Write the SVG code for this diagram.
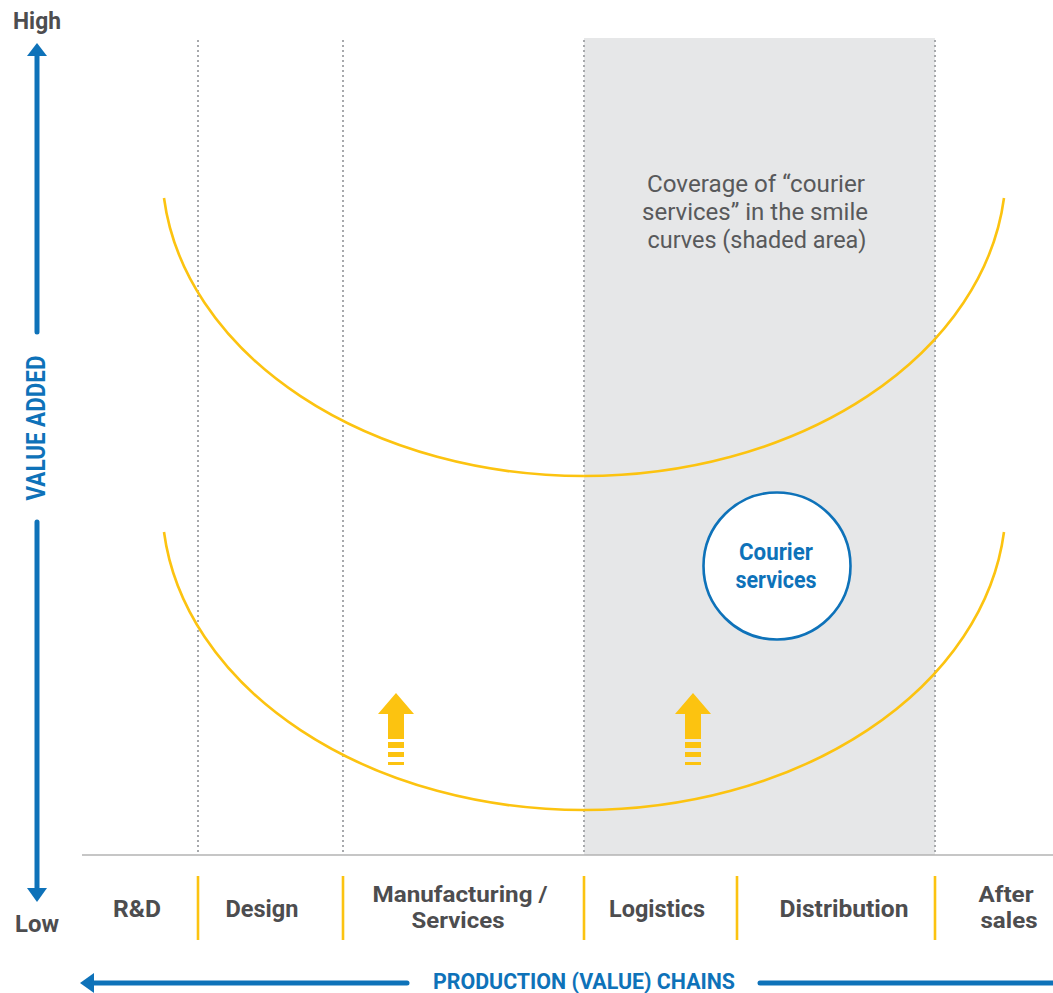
<svg xmlns="http://www.w3.org/2000/svg" width="1053" height="993" viewBox="0 0 1053 993">
  <defs>
    <style>
      .divider { stroke: #a7a9ac; stroke-width: 2; stroke-dasharray: 2 3; fill: none; }
      .smile { stroke: #fcc310; stroke-width: 2.6; fill: none; }
      .sep { stroke: #fcc310; stroke-width: 2.6; }
      .axis { stroke: #0e72b9; stroke-width: 5; stroke-linecap: round; fill: none; }
      .head { fill: #0e72b9; }
      .stage { font-family: Roboto, "Liberation Sans", sans-serif; font-weight: 700; font-size: 23.5px; fill: #4d4d4f; text-anchor: middle; }
      .stage2 { font-family: Roboto, "Liberation Sans", sans-serif; font-weight: 700; font-size: 22px; fill: #4d4d4f; text-anchor: middle; }
      .axislbl { font-family: Roboto, "Liberation Sans", sans-serif; font-weight: 700; font-size: 23px; fill: #4d4d4f; text-anchor: middle; }
      .title { font-family: Roboto, "Liberation Sans", sans-serif; font-weight: 700; font-size: 23px; fill: #0e72b9; text-anchor: middle; }
      .note { font-family: Roboto, "Liberation Sans", sans-serif; font-size: 23px; fill: #58595b; text-anchor: middle; }
      .boost { fill: #fcc310; }
    </style>
  </defs>

  <rect width="1053" height="993" fill="#ffffff"/>

  <!-- shaded coverage band -->
  <rect id="coverage" x="584" y="38" width="351" height="817" fill="#e6e7e8"/>

  <!-- stage dividers -->
  <g id="dividers">
    <line class="divider" x1="198" y1="40" x2="198" y2="855"/>
    <line class="divider" x1="343" y1="40" x2="343" y2="855"/>
    <line class="divider" x1="584" y1="40" x2="584" y2="855"/>
    <line class="divider" x1="935" y1="40" x2="935" y2="855"/>
  </g>

  <!-- baseline -->
  <line x1="82" y1="855" x2="1053" y2="855" stroke="#b3b3b3" stroke-width="1.6"/>

  <!-- smile curves -->
  <g id="curves">
    <path class="smile" d="M164,198 A422,308 0 0 0 1004,198"/>
    <path class="smile" d="M164,532 A422,308 0 0 0 1004,532"/>
  </g>

  <!-- coverage note -->
  <g id="note">
    <text class="note" x="756" y="192" textLength="218" lengthAdjust="spacingAndGlyphs">Coverage of “courier</text>
    <text class="note" x="755" y="220" textLength="226" lengthAdjust="spacingAndGlyphs">services” in the smile</text>
    <text class="note" x="757" y="248" textLength="219" lengthAdjust="spacingAndGlyphs">curves (shaded area)</text>
  </g>

  <!-- courier services node -->
  <g id="courier">
    <circle cx="777" cy="566" r="73.5" fill="#ffffff" stroke="#0e72b9" stroke-width="2.6"/>
    <text class="title" x="776" y="560" textLength="74" lengthAdjust="spacingAndGlyphs">Courier</text>
    <text class="title" x="776" y="588" textLength="81" lengthAdjust="spacingAndGlyphs">services</text>
  </g>

  <!-- upgrade arrows -->
  <g id="upgrade-1" transform="translate(396,0)">
    <polygon class="boost" points="0,693 18,714 8,714 8,739 -8,739 -8,714 -18,714"/>
    <rect class="boost" x="-8" y="742" width="16" height="6"/>
    <rect class="boost" x="-8" y="752" width="16" height="5"/>
    <rect class="boost" x="-8" y="762" width="16" height="3"/>
  </g>
  <g id="upgrade-2" transform="translate(693,0)">
    <polygon class="boost" points="0,693 18,714 8,714 8,739 -8,739 -8,714 -18,714"/>
    <rect class="boost" x="-8" y="742" width="16" height="6"/>
    <rect class="boost" x="-8" y="752" width="16" height="5"/>
    <rect class="boost" x="-8" y="762" width="16" height="3"/>
  </g>

  <!-- value added axis -->
  <g id="value-axis">
    <text class="axislbl" x="37" y="29" textLength="48" lengthAdjust="spacingAndGlyphs">High</text>
    <polygon class="head" points="37,43 47,56 27,56"/>
    <line class="axis" x1="37" y1="55" x2="37" y2="332"/>
    <text class="title" transform="translate(45,428) rotate(-90)" style="font-size:25px" textLength="145" lengthAdjust="spacingAndGlyphs">VALUE ADDED</text>
    <line class="axis" x1="37" y1="522" x2="37" y2="889"/>
    <polygon class="head" points="37,902 27,888 47,888"/>
    <text class="axislbl" x="37" y="932" textLength="44" lengthAdjust="spacingAndGlyphs">Low</text>
  </g>

  <!-- chain stages -->
  <g id="stages">
    <line class="sep" x1="198" y1="876" x2="198" y2="940"/>
    <line class="sep" x1="343" y1="876" x2="343" y2="940"/>
    <line class="sep" x1="584" y1="876" x2="584" y2="940"/>
    <line class="sep" x1="737" y1="876" x2="737" y2="940"/>
    <line class="sep" x1="935" y1="876" x2="935" y2="940"/>
    <text class="stage" x="137" y="917" textLength="48" lengthAdjust="spacingAndGlyphs">R&amp;D</text>
    <text class="stage" x="262" y="917" textLength="73" lengthAdjust="spacingAndGlyphs">Design</text>
    <text class="stage2" x="460" y="902" textLength="175" lengthAdjust="spacingAndGlyphs">Manufacturing /</text>
    <text class="stage2" x="458" y="928" textLength="93" lengthAdjust="spacingAndGlyphs">Services</text>
    <text class="stage" x="657" y="917" textLength="96" lengthAdjust="spacingAndGlyphs">Logistics</text>
    <text class="stage" x="844" y="917" textLength="129" lengthAdjust="spacingAndGlyphs">Distribution</text>
    <text class="stage2" x="1006" y="902" textLength="55" lengthAdjust="spacingAndGlyphs">After</text>
    <text class="stage2" x="1009" y="928" textLength="57" lengthAdjust="spacingAndGlyphs">sales</text>
  </g>

  <!-- production chain axis -->
  <g id="chain-axis">
    <polygon class="head" points="80,983 94,973 94,993"/>
    <line class="axis" x1="92" y1="983" x2="407" y2="983"/>
    <text class="title" x="584" y="989" style="font-size:22px" textLength="302" lengthAdjust="spacingAndGlyphs">PRODUCTION (VALUE) CHAINS</text>
    <line class="axis" x1="760" y1="983" x2="1060" y2="983"/>
  </g>
</svg>
